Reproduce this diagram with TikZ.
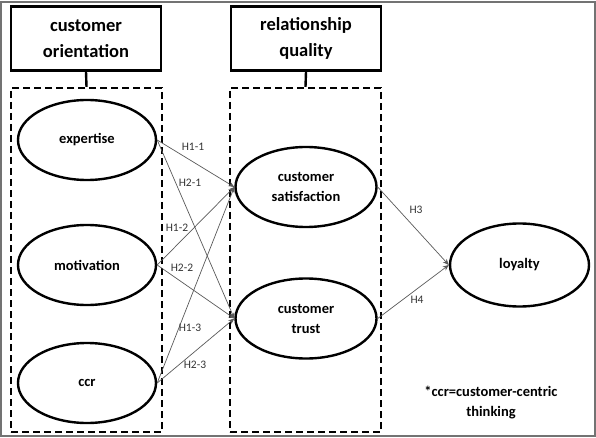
\documentclass[tikz,border=0pt]{standalone}
\usepackage{fontspec}
\setmainfont{Carlito}
\usetikzlibrary{shapes.geometric,arrows.meta}
\begin{document}
\begin{tikzpicture}[x=1pt,y=-1pt,
  titlebox/.style={draw,line width=2.4pt,minimum width=150pt,minimum height=64pt,inner sep=0pt,align=center,
    font=\fontsize{18.5}{26}\selectfont\bfseries},
  groupbox/.style={draw,line width=2.4pt,dash pattern=on 7pt off 4pt},
  latent/.style={draw,ellipse,line width=2.4pt,minimum width=138pt,minimum height=80pt,inner sep=0pt,align=center,
    font=\fontsize{14.5}{20}\selectfont\bfseries},
  path/.style={draw=black!65,line width=0.7pt,-{Stealth[length=6pt,width=5pt]}},
  hlab/.style={font=\fontsize{11.5}{12}\selectfont,text=black!80,inner sep=0pt},
  note/.style={font=\fontsize{14.5}{20}\selectfont\bfseries,align=center,inner sep=0pt}]
\useasboundingbox (0,0) rectangle (596,438);
\draw[black!55,line width=2pt] (1,2) rectangle (594.5,435.5);

% title boxes
\node[titlebox] (t1) at (86,38.5) {customer\\orientation};
\node[titlebox] (t2) at (306,38.5) {relationship\\quality};

% dashed group boxes
\node[groupbox,minimum width=151pt,minimum height=344pt,inner sep=0pt] (g1) at (86.5,260) {};
\node[groupbox,minimum width=151pt,minimum height=344pt,inner sep=0pt] (g2) at (305.5,260) {};
\draw[line width=2.4pt] (t1.south) -- (g1.north);
\draw[line width=2.4pt] (t2.south) -- (g2.north);

% latent variables
\node[latent] (exp) at (87,140) {expertise};
\node[latent] (mot) at (87,265) {motivation};
\node[latent] (ccr) at (87,383) {ccr};
\node[latent,minimum width=141pt] (sat) at (306,187) {customer\\satisfaction};
\node[latent,minimum width=141pt] (tru) at (306,318.5) {customer\\trust};
\node[latent,minimum width=139pt,minimum height=83pt] (loy) at (519.5,265) {loyalty};

% paths
\draw[path] (exp.east) -- (sat.west);
\draw[path] (exp.east) -- (tru.west);
\draw[path] (mot.east) -- (sat.west);
\draw[path] (mot.east) -- (tru.west);
\draw[path] (ccr.east) -- (sat.west);
\draw[path] (ccr.east) -- (tru.west);
\draw[path] (sat.east) -- (loy.west);
\draw[path] (tru.east) -- (loy.west);

% labels
\node[hlab] (h11) at (193,147) {H1-1};
\node[hlab] (h21) at (190,183) {H2-1};
\node[hlab] (h12) at (177,228) {H1-2};
\node[hlab] (h22) at (182,268) {H2-2};
\node[hlab] (h13) at (190,328) {H1-3};
\node[hlab] (h23) at (195,365) {H2-3};
\node[hlab] (h3) at (416,210) {H3};
\node[hlab] (h4) at (417,300) {H4};

\node[note] (nt) at (491,403) {*ccr=customer-centric\\thinking};
\end{tikzpicture}
\end{document}
